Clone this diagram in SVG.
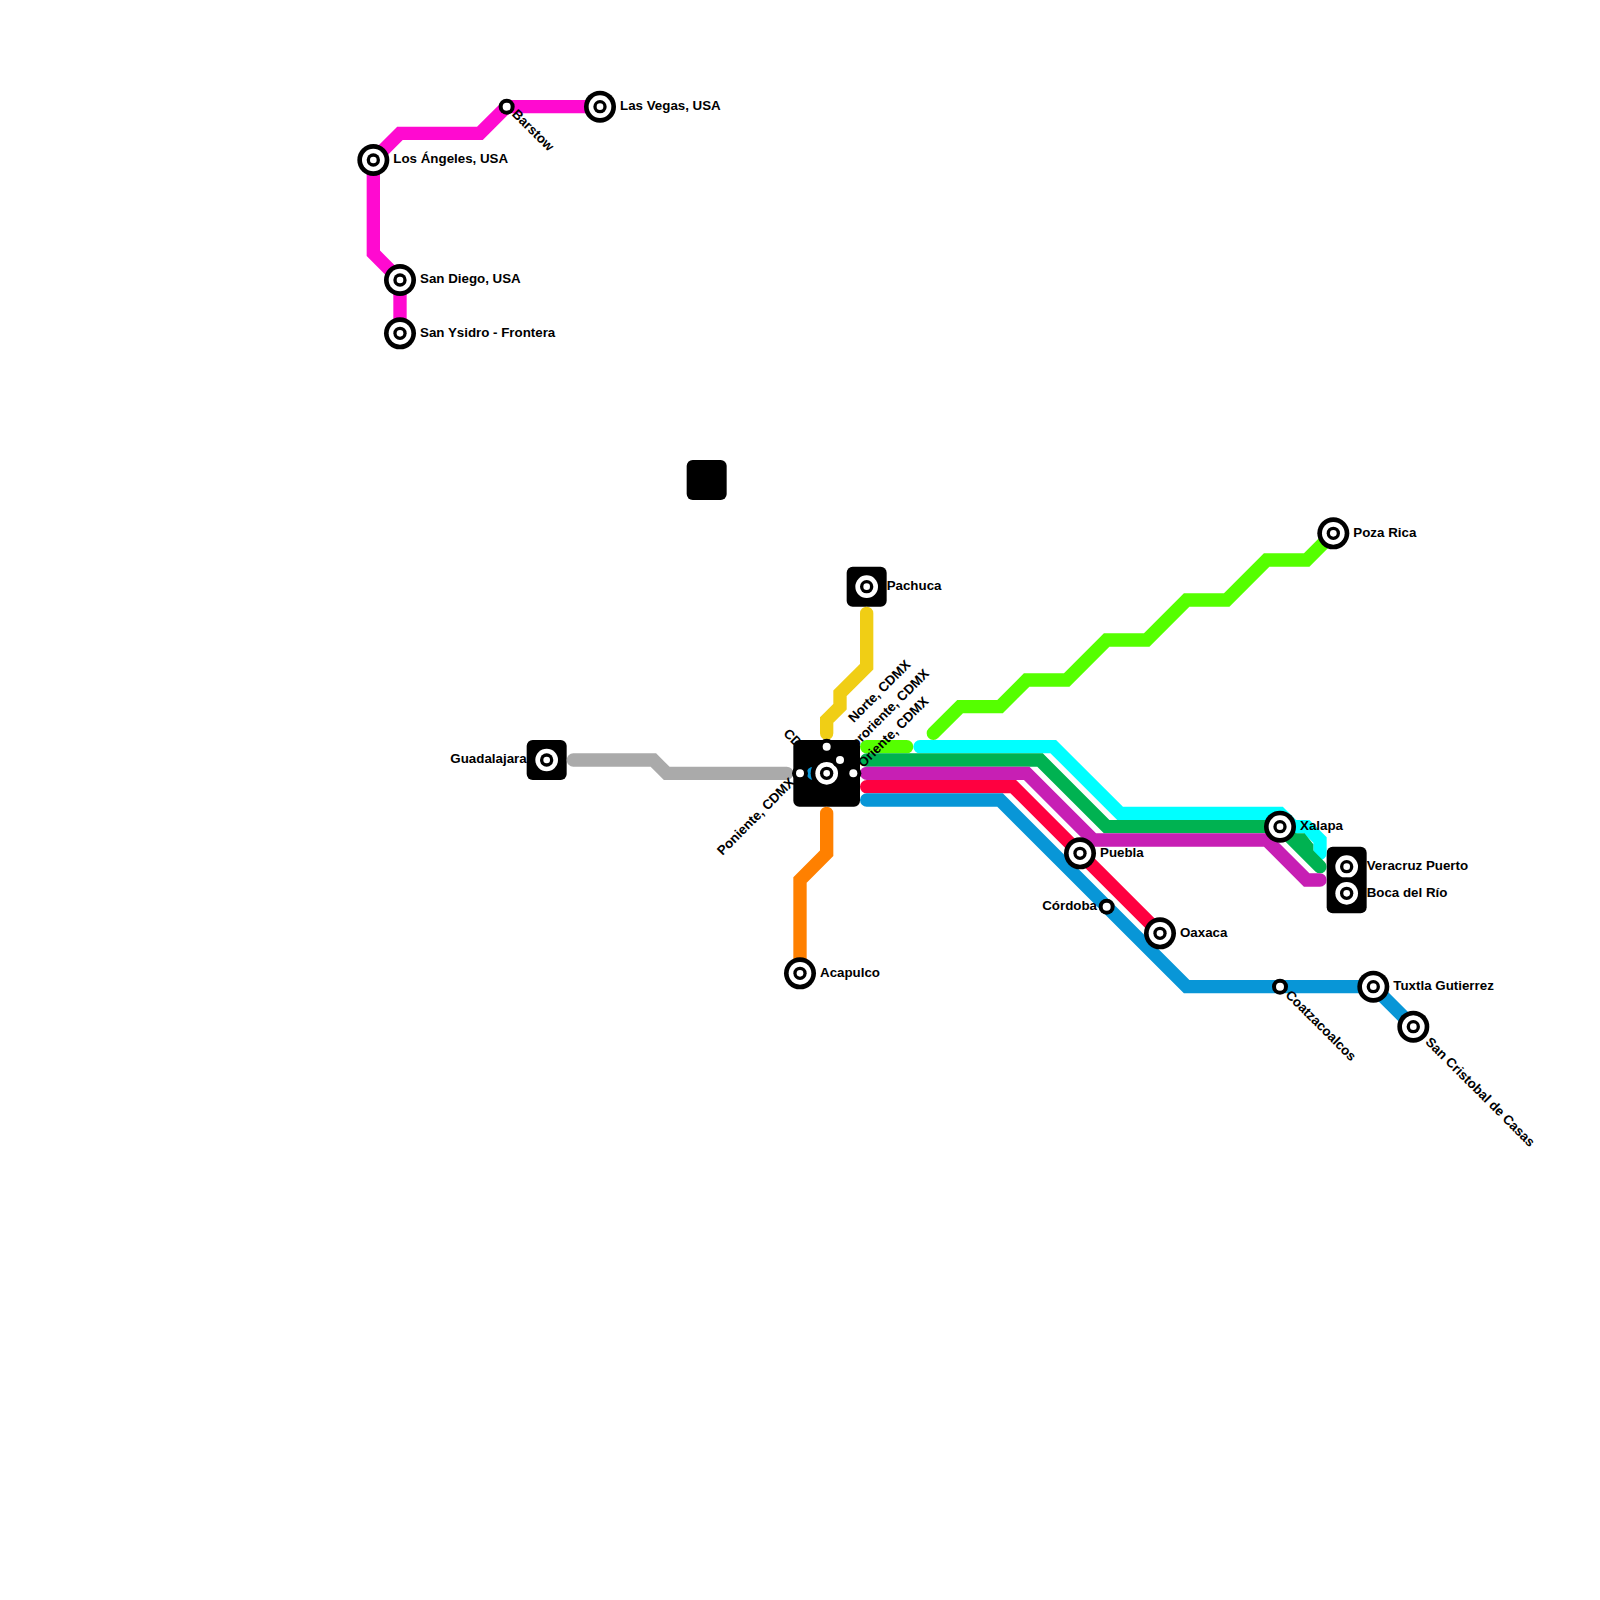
<svg xmlns="http://www.w3.org/2000/svg" width="1600" height="1600" viewBox="0 0 1600 1600">
<style>
.l{fill:none;stroke-width:1;stroke-linejoin:miter;stroke-linecap:butt}
.r{stroke-linecap:round}
.b{fill:#000}
text{font-family:"Liberation Sans",Arial,sans-serif;font-weight:700;font-size:13.33px;fill:#000}
.e{text-anchor:end}
</style>
<defs>
<g id="st"><circle r="16" fill="#000"/><circle r="11.33" fill="#fff"/><circle r="6.67" fill="#000"/><circle r="3.33" fill="#fff"/></g>
<g id="sm"><circle r="8" fill="#000"/><circle r="4" fill="#fff"/></g>
</defs>
<rect width="1600" height="1600" fill="#fff"/>
<g id="interchanges">
<rect class="b" x="686.67" y="460" width="40" height="40" rx="6"/>
<rect class="b" x="846.67" y="566.67" width="40" height="40" rx="6"/>
<rect class="b" x="526.67" y="740" width="40" height="40" rx="6"/>
<rect class="b" x="793.33" y="740" width="66.67" height="66.67" rx="6"/>
<rect class="b" x="1326.67" y="846.67" width="40" height="66.67" rx="6"/>
</g>
<g id="connectors" transform="scale(13.33333)">
<path class="l" stroke="#ff0ad0" d="M45 8H38L36 10H30L28 12V19L30 21V25"/>
<path class="l r" stroke="#aaa" d="M43 57H49L50 58H59"/>
<path class="l r" stroke="#f0ce15" d="M65 46V50L63 52V53L62 54V55"/>
<path class="l r" stroke="#ff8000" d="M62 61V64L60 66V73"/>
<path class="l r" stroke="#55ff00" d="M65 56H68"/>
<path class="l r" stroke="#55ff00" d="M70 55L72 53H75L77 51H80L83 48H86L89 45H92L95 42H98L100 40"/>
<path class="l r" stroke="#00ffff" d="M69 56H79L84 61H96L97 62H98L99 63V64"/>
<path class="l r" stroke="#00b251" d="M65 57H78L83 62H96L99 65"/>
<path class="l" stroke="#00b251" d="M97 63H97.6L98 63.5V64.2"/>
<path class="l r" stroke="#c71fb4" d="M65 58H77L82 63H95L98 66H99"/>
<path class="l r" stroke="#ff0040" d="M65 59H76L87 70"/>
<path class="l r" stroke="#0896d7" d="M65 60H75L89 74H103L106 77"/>
<path class="l r" stroke="#0896d7" d="M61 58h0.001"/>
</g>
<g id="los-angeles"><use href="#st" x="373.33" y="160"/><text x="393.33" y="163.3">Los Ángeles, USA</text></g>
<g id="san-diego"><use href="#st" x="400" y="280"/><text x="420" y="283.3">San Diego, USA</text></g>
<g id="san-ysidro"><use href="#st" x="400" y="333.33"/><text x="420" y="336.6">San Ysidro - Frontera</text></g>
<g id="barstow"><use href="#sm" x="506.67" y="106.67"/><text transform="translate(514.5,111.5) rotate(45)" y="4.5">Barstow</text></g>
<g id="las-vegas"><use href="#st" x="600" y="106.67"/><text x="620" y="110">Las Vegas, USA</text></g>
<g id="guadalajara"><use href="#st" x="546.67" y="760"/><text class="e" x="526.67" y="763.3">Guadalajara</text></g>
<g id="pachuca"><use href="#st" x="866.67" y="586.67"/><text x="886.67" y="590">Pachuca</text></g>
<g id="cdmx"><use href="#st" x="826.67" y="773.33"/><text transform="translate(786,731) rotate(45)" y="4.5">CDMX</text></g>
<g id="norte-cdmx"><use href="#sm" x="826.67" y="746.67"/><text transform="translate(850.5,720) rotate(-45)" y="4.5">Norte, CDMX</text></g>
<g id="nororiente-cdmx"><use href="#sm" x="840" y="760"/><text transform="translate(846,752) rotate(-45)" y="4.5">Nororiente, CDMX</text></g>
<g id="oriente-cdmx"><use href="#sm" x="853.33" y="773.33"/><text transform="translate(860,765) rotate(-45)" y="4.5">Oriente, CDMX</text></g>
<g id="poniente-cdmx"><use href="#sm" x="800" y="773.33"/><text class="e" transform="translate(792,780) rotate(-45)" y="4.5">Poniente, CDMX</text></g>
<g id="acapulco"><use href="#st" x="800" y="973.33"/><text x="820" y="976.6">Acapulco</text></g>
<g id="puebla"><use href="#st" x="1080" y="853.33"/><text x="1100" y="856.6">Puebla</text></g>
<g id="cordoba"><use href="#sm" x="1106.67" y="906.67"/><text class="e" x="1097" y="910">Córdoba</text></g>
<g id="oaxaca"><use href="#st" x="1160" y="933.33"/><text x="1180" y="936.6">Oaxaca</text></g>
<g id="xalapa"><use href="#st" x="1280" y="826.67"/><text x="1300" y="830">Xalapa</text></g>
<g id="veracruz-puerto"><use href="#st" x="1346.67" y="866.67"/><text x="1366.67" y="870">Veracruz Puerto</text></g>
<g id="boca-del-rio"><use href="#st" x="1346.67" y="893.33"/><text x="1366.67" y="896.6">Boca del Río</text></g>
<g id="poza-rica"><use href="#st" x="1333.33" y="533.33"/><text x="1353.33" y="536.6">Poza Rica</text></g>
<g id="coatzacoalcos"><use href="#sm" x="1280" y="986.67"/><text transform="translate(1288,992.5) rotate(45)" y="4.5">Coatzacoalcos</text></g>
<g id="tuxtla"><use href="#st" x="1373.33" y="986.67"/><text x="1393.33" y="990">Tuxtla Gutierrez</text></g>
<g id="san-cristobal"><use href="#st" x="1413.33" y="1026.67"/><text transform="translate(1428,1039.5) rotate(45)" y="4.5">San Cristobal de Casas</text></g>
</svg>
